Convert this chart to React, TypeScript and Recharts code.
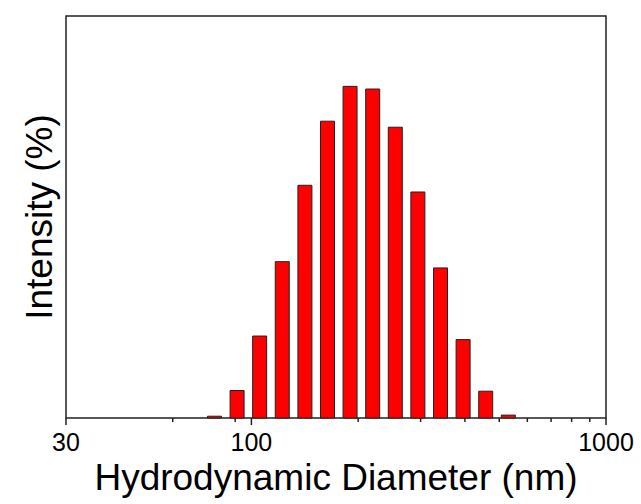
import React from "react";
import { ComposedChart, Bar, XAxis, YAxis, ReferenceArea } from "recharts";

// Bin centres (nm) and intensity (%)
const diameters = [78.82, 91.28, 105.7, 122.4, 141.8, 164.2, 190.1, 220.2, 255.0, 295.3, 342.0, 396.1, 458.7, 531.2];
const intensities = [0.08, 1.23, 3.67, 7.0, 10.42, 13.29, 14.85, 14.73, 13.02, 10.12, 6.72, 3.51, 1.2, 0.13];
const majorTicks = [30, 100, 1000];
const minorTicks = [60, 90, 200, 300, 400, 500, 600, 700, 800, 900];
const xDomain = [30, 1000];
const yDomain = [0, 18];

const data = diameters.map((d, i) => ({ d, v: intensities[i] }));
const allTicks = [...majorTicks, ...minorTicks].sort((a, b) => a - b);

const FONT = "'Liberation Sans', Arial, sans-serif";

const XTick = (props: any) => {
  const { x, y, payload } = props;
  const isMajor = majorTicks.includes(payload.value);
  return (
    <g>
      <line x1={x} y1={y} x2={x} y2={y + (isMajor ? 7 : 4)} stroke="#222" strokeWidth={1.5} />
      {isMajor && (
        <text x={x} y={y + 33} textAnchor="middle" fontFamily={FONT} fontSize={25} fill="#000">
          {payload.value}
        </text>
      )}
    </g>
  );
};

const XTitle = (props: any) => {
  const { viewBox } = props;
  return (
    <text
      x={viewBox.x + viewBox.width / 2}
      y={viewBox.y + 72}
      textAnchor="middle"
      fontFamily={FONT}
      fontSize={37}
      fill="#000"
    >
      Hydrodynamic Diameter (nm)
    </text>
  );
};

const YTitle = (props: any) => {
  const { viewBox } = props;
  const cx = viewBox.x + 51.5;
  const cy = viewBox.y + viewBox.height / 2;
  return (
    <text
      x={cx}
      y={cy}
      transform={`rotate(-90, ${cx}, ${cy})`}
      textAnchor="middle"
      fontFamily={FONT}
      fontSize={37}
      fill="#000"
    >
      Intensity (%)
    </text>
  );
};

export default function App() {
  return (
    <div style={{ position: "absolute", left: 0, top: 0, background: "#fff" }}>
      <ComposedChart width={641} height={504} data={data} margin={{ top: 16, right: 35, bottom: 0, left: 0 }}>
        <XAxis
          dataKey="d"
          type="number"
          scale="log"
          domain={xDomain}
          ticks={allTicks}
          allowDataOverflow
          interval={0}
          height={86}
          tickSize={0}
          tickMargin={0}
          axisLine={false}
          tickLine={false}
          tick={<XTick />}
          label={{ content: <XTitle /> }}
        />
        <YAxis
          type="number"
          domain={yDomain}
          width={66}
          tick={false}
          tickLine={false}
          axisLine={false}
          label={{ content: <YTitle /> }}
        />
        <Bar dataKey="v" fill="#ff0000" stroke="#222" strokeWidth={1} barSize={14} isAnimationActive={false} />
        <ReferenceArea
          x1={xDomain[0]}
          x2={xDomain[1]}
          y1={yDomain[0]}
          y2={yDomain[1]}
          fill="none"
          stroke="#222"
          strokeWidth={1.5}
          ifOverflow="visible"
        />
      </ComposedChart>
    </div>
  );
}
